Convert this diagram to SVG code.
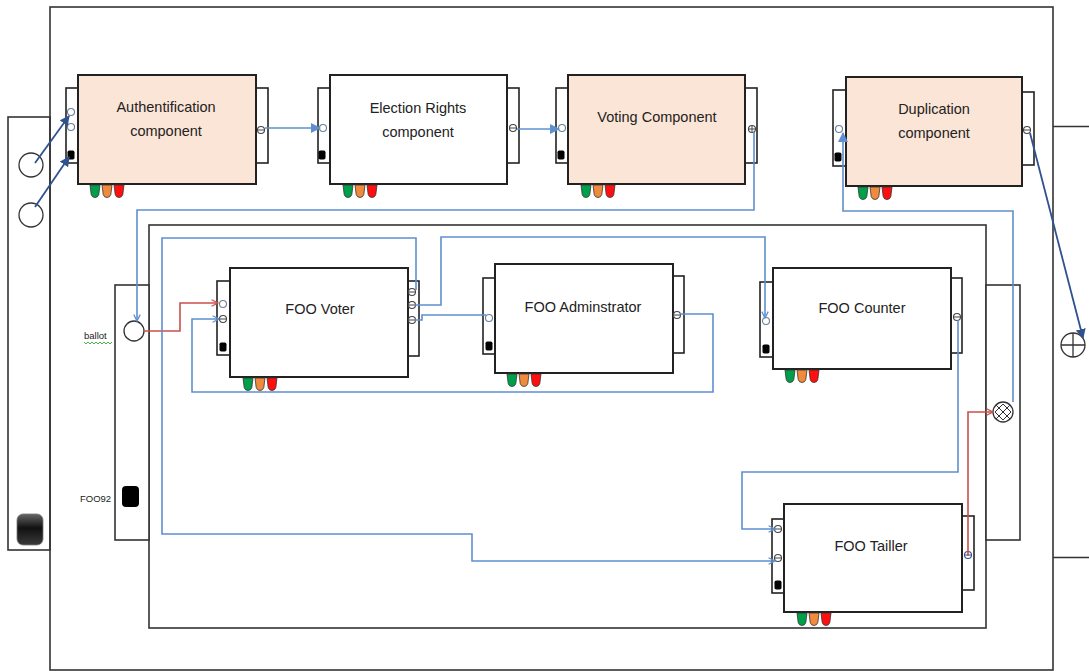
<svg xmlns="http://www.w3.org/2000/svg" width="1089" height="671" viewBox="0 0 1089 671">
  <style>
    .frame{fill:none;stroke:#333;stroke-width:1.6}
    .panel{fill:#fff;stroke:#333;stroke-width:1.6}
    .box{stroke:#222;stroke-width:2}
    .peach{fill:#fbe5d6}
    .white{fill:#fff}
    .tab{fill:#fff;stroke:#222;stroke-width:1.6}
    .pin{fill:#fff;stroke:#6a7f9a;stroke-width:1.1}
    .pout{fill:#fff;stroke:#444;stroke-width:1.1}
    .lbl{font-family:"Liberation Sans",Arial,sans-serif;font-size:14.5px;fill:#222;text-anchor:middle}
    .small{font-family:"Liberation Sans",Arial,sans-serif;font-size:9.5px;fill:#222}
    .blue{fill:none;stroke:#5f8fcf;stroke-width:1.6}
    .navy{fill:none;stroke:#2f528f;stroke-width:1.8}
    .red{fill:none;stroke:#c9504a;stroke-width:1.6}
    .sym{fill:#fff;stroke:#333;stroke-width:1.3}
  </style>
  <defs>
    <marker id="mNavy" viewBox="0 0 10 10" refX="9" refY="5" markerWidth="10" markerHeight="10" orient="auto" markerUnits="userSpaceOnUse">
      <path d="M0,0 L10,5 L0,10 z" fill="#2f528f"/>
    </marker>
    <marker id="mBlue" viewBox="0 0 10 10" refX="9" refY="5" markerWidth="10" markerHeight="10" orient="auto" markerUnits="userSpaceOnUse">
      <path d="M0,0 L10,5 L0,10 z" fill="#5f8fcf"/>
    </marker>
    <marker id="vBlue" viewBox="0 0 10 10" refX="9" refY="5" markerWidth="8" markerHeight="8" orient="auto" markerUnits="userSpaceOnUse">
      <path d="M1,1 L9,5 L1,9" fill="none" stroke="#5f8fcf" stroke-width="1.6"/>
    </marker>
    <marker id="vRed" viewBox="0 0 10 10" refX="9" refY="5" markerWidth="8" markerHeight="8" orient="auto" markerUnits="userSpaceOnUse">
      <path d="M1,1 L9,5 L1,9" fill="none" stroke="#c9504a" stroke-width="1.6"/>
    </marker>
    <linearGradient id="gKey" x1="0" y1="0" x2="0" y2="1">
      <stop offset="0" stop-color="#666"/>
      <stop offset="0.45" stop-color="#111"/>
      <stop offset="1" stop-color="#3a3a3a"/>
    </linearGradient>
    <!-- status lamps: green / orange / red -->
    <g id="leds">
      <path d="M0,0h10l-1.2,9.5q-0.8,3-3.8,3q-3,0-3.8-3z" fill="#00a04a" stroke="#333" stroke-width="0.8"/>
      <path d="M12,0h10l-1.2,9.5q-0.8,3-3.8,3q-3,0-3.8-3z" fill="#f08a3c" stroke="#333" stroke-width="0.8"/>
      <path d="M24,0h10l-1.2,9.5q-0.8,3-3.8,3q-3,0-3.8-3z" fill="#ff1010" stroke="#333" stroke-width="0.8"/>
    </g>
    <g id="pIn"><circle r="3.5" class="pin"/></g>
    <g id="pOut"><circle r="3.5" class="pout"/><line x1="-3.5" y1="0" x2="3.5" y2="0" stroke="#444" stroke-width="1"/></g>
    <g id="pSig"><rect x="-3.5" y="-4.5" width="7" height="9" rx="1.8" fill="#000"/></g>
  </defs>

  <!-- frames -->
  <g id="frames">
    <rect x="8" y="117" width="42" height="433" class="panel"/>
    <rect x="50" y="7" width="1003" height="663" class="frame"/>
    <line x1="1053" y1="126.5" x2="1089" y2="126.5" stroke="#333" stroke-width="1.6"/>
    <line x1="1053" y1="557.5" x2="1089" y2="557.5" stroke="#333" stroke-width="1.6"/>
    <rect x="149" y="225" width="837" height="403" class="frame"/>
    <rect x="115" y="285" width="34" height="255" class="panel"/>
    <rect x="986" y="285" width="34" height="255" class="panel"/>
  </g>

  <!-- outer terminals -->
  <g id="terminals">
    <circle cx="31" cy="165" r="12" class="sym"/>
    <circle cx="31" cy="215" r="12" class="sym"/>
    <rect x="17" y="514" width="26" height="31" rx="6" fill="url(#gKey)" stroke="#777" stroke-width="0.8"/>
    <g id="ballot">
      <circle cx="134" cy="331" r="10" class="sym"/>
      <text x="84" y="339" class="small">ballot</text>
      <path d="M84,342 l2,2 l2,-2 l2,2 l2,-2 l2,2 l2,-2 l2,2 l2,-2 l2,2 l2,-2 l2,2 l2,-2 l2,2 l2,-2" fill="none" stroke="#3aa83a" stroke-width="0.9"/>
    </g>
    <g id="foo92">
      <text x="80" y="502" class="small">FOO92</text>
      <rect x="122" y="486" width="17" height="21" rx="4" fill="#000"/>
    </g>
    <g id="mux">
      <circle cx="1003" cy="412" r="10" class="sym"/>
      <path d="M996,405 L1010,419 M1010,405 L996,419 M1003,404 L1011,412 L1003,420 L995,412 z" fill="none" stroke="#333" stroke-width="1"/>
    </g>
    <g id="sink">
      <circle cx="1073" cy="345" r="12" class="sym"/>
      <path d="M1073,333 V357 M1061,345 H1085" stroke="#333" stroke-width="1.3"/>
    </g>
  </g>

  <!-- components -->
  <g id="auth" transform="translate(78,75)">
    <rect x="-12" y="13" width="12" height="75" class="tab"/>
    <rect x="178" y="13" width="12" height="75" class="tab"/>
    <rect width="178" height="109" class="box peach"/>
    <use href="#pIn" x="-7" y="37"/><use href="#pIn" x="-7" y="52"/><use href="#pSig" x="-7" y="80"/>
    <use href="#pOut" x="183" y="55"/>
    <use href="#leds" x="12" y="110"/>
    <text x="88" y="37" class="lbl">Authentification</text>
    <text x="88" y="61" class="lbl">component</text>
  </g>

  <g id="election" transform="translate(330,75)">
    <rect x="-12" y="13" width="12" height="75" class="tab"/>
    <rect x="177" y="13" width="12" height="75" class="tab"/>
    <rect width="177" height="109" class="box white"/>
    <use href="#pIn" x="-7" y="53"/><use href="#pSig" x="-8" y="80"/>
    <use href="#pOut" x="183" y="53"/>
    <use href="#leds" x="13" y="110"/>
    <text x="88" y="38" class="lbl">Election Rights</text>
    <text x="88" y="62" class="lbl">component</text>
  </g>

  <g id="voting" transform="translate(568,75)">
    <rect x="-12" y="13" width="12" height="75" class="tab"/>
    <rect x="177" y="13" width="12" height="75" class="tab"/>
    <rect width="177" height="109" class="box peach"/>
    <use href="#pIn" x="-6" y="53"/><use href="#pSig" x="-7" y="80"/>
    <g transform="translate(184,54)"><circle r="3.5" class="pout"/><path d="M-3.5,0H3.5M0,-3.5V3.5" stroke="#444" stroke-width="1"/></g>
    <use href="#leds" x="13" y="110"/>
    <text x="89" y="47" class="lbl">Voting Component</text>
  </g>

  <g id="duplication" transform="translate(846,77)">
    <rect x="-13" y="13" width="13" height="76" class="tab"/>
    <rect x="176" y="15" width="12" height="73" class="tab"/>
    <rect width="176" height="109" class="box peach"/>
    <use href="#pIn" x="-7" y="52"/><use href="#pSig" x="-8" y="80"/>
    <use href="#pOut" x="181" y="53"/>
    <use href="#leds" x="12" y="110"/>
    <text x="88" y="37" class="lbl">Duplication</text>
    <text x="88" y="61" class="lbl">component</text>
  </g>

  <g id="fooVoter" transform="translate(230,268)">
    <rect x="-13" y="13" width="13" height="74" class="tab"/>
    <rect x="177" y="13" width="12" height="75" class="tab"/>
    <rect width="178" height="109" class="box white"/>
    <use href="#pIn" x="-7" y="36"/><use href="#pOut" x="-7" y="51"/><use href="#pSig" x="-7" y="79"/>
    <use href="#pOut" x="182" y="24"/><use href="#pOut" x="182" y="37"/><use href="#pOut" x="182" y="52"/>
    <use href="#leds" x="13" y="110"/>
    <text x="90" y="46" class="lbl">FOO Voter</text>
  </g>

  <g id="fooAdmin" transform="translate(495,264)">
    <rect x="-12" y="14" width="12" height="76" class="tab"/>
    <rect x="177" y="12" width="12" height="77" class="tab"/>
    <rect width="178" height="109" class="box white"/>
    <use href="#pIn" x="-6" y="54"/><use href="#pSig" x="-6" y="82"/>
    <use href="#pOut" x="182" y="51"/>
    <use href="#leds" x="12" y="110"/>
    <text x="88" y="48" class="lbl">FOO Adminstrator</text>
  </g>

  <g id="fooCounter" transform="translate(773,268)">
    <rect x="-13" y="14" width="13" height="75" class="tab"/>
    <rect x="177" y="10" width="12" height="75" class="tab"/>
    <rect width="178" height="101" class="box white"/>
    <use href="#pIn" x="-7" y="53"/><use href="#pSig" x="-7" y="81"/>
    <use href="#pOut" x="184" y="49"/>
    <use href="#leds" x="12" y="102"/>
    <text x="89" y="45" class="lbl">FOO Counter</text>
  </g>

  <g id="fooTailler" transform="translate(784,504)">
    <rect x="-12" y="15" width="12" height="74" class="tab"/>
    <rect x="178" y="12" width="12" height="74" class="tab"/>
    <rect width="178" height="108" class="box white"/>
    <use href="#pOut" x="-6" y="25"/><use href="#pOut" x="-6" y="54"/><use href="#pSig" x="-6" y="81"/>
    <g transform="translate(184,51)"><circle r="3.5" fill="#fff" stroke="#2f528f" stroke-width="1.1"/><line x1="-3.5" x2="3.5" stroke="#2f528f" stroke-width="1"/></g>
    <use href="#leds" x="13" y="109"/>
    <text x="87" y="47" class="lbl">FOO Tailler</text>
  </g>

  <!-- connectors -->
  <g id="connectors">
    <path class="navy" d="M35,163 L69,116" marker-end="url(#mNavy)"/>
    <path class="navy" d="M35,207 L69,157" marker-end="url(#mNavy)"/>
    <path class="blue" d="M265,128 H320" marker-end="url(#mBlue)"/>
    <path class="blue" d="M517,129 H559" marker-end="url(#mBlue)"/>
    <path class="blue" d="M754,132 V210 H137 V321" marker-end="url(#vBlue)"/>
    <path class="blue" d="M1013,402 V211 H843 V133" marker-end="url(#mBlue)"/>
    <path class="navy" d="M1030,133 L1083,338" marker-end="url(#mNavy)"/>
    <path class="red" d="M144,331 H180 V303 H218" marker-end="url(#vRed)"/>
    <path class="blue" d="M416,290 V238 H162 V534 H472 V561 H775" marker-end="url(#vBlue)"/>
    <path class="blue" d="M415,305 H441 V237 H765 V318" marker-end="url(#vBlue)"/>
    <path class="blue" d="M415,320 H422 V315 H486"/>
    <path class="blue" d="M680,314 H713 V392 H192 V319 H219" marker-end="url(#vBlue)"/>
    <path class="blue" d="M958,320 V472 H742 V529 H775" marker-end="url(#vBlue)"/>
    <path class="red" d="M968,556 V412 H993" marker-end="url(#vRed)"/>
  </g>
</svg>
